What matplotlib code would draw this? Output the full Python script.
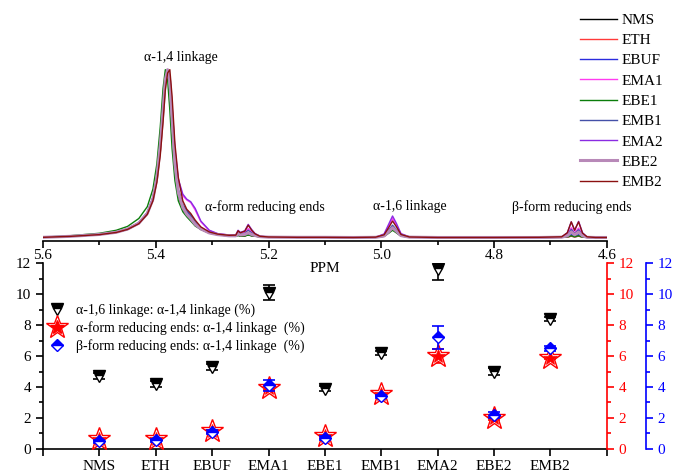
import matplotlib
matplotlib.use('Agg')
import matplotlib.pyplot as plt
from matplotlib.lines import Line2D
from matplotlib.legend_handler import HandlerTuple
from matplotlib.ticker import MultipleLocator

plt.rcParams['font.family'] = ['Liberation Serif', 'DejaVu Serif']
plt.rcParams['font.size'] = 11

# ---- 1H NMR spectra (normalised to the alpha-1,4 peak) ----
ppm = [5.60, 5.55, 5.50, 5.47, 5.45, 5.43, 5.415, 5.405, 5.398, 5.392,
       5.387, 5.383, 5.379, 5.375, 5.371, 5.366, 5.360, 5.352, 5.345, 5.338,
       5.330, 5.320, 5.305, 5.290, 5.270, 5.258, 5.254, 5.250, 5.242, 5.236,
       5.230, 5.224, 5.215, 5.200, 5.150, 5.100, 5.050, 5.010, 4.995, 4.987,
       4.980, 4.973, 4.965, 4.950, 4.900, 4.800, 4.720, 4.680, 4.670, 4.663,
       4.657, 4.650, 4.643, 4.635, 4.620, 4.600]

nms = [0.3, 0.9, 1.9, 3.2, 5.0, 8.5, 14, 23, 36, 55,
       77, 94, 100, 92, 70, 42, 25, 16.5, 13, 10.5,
       7.5, 5.0, 2.8, 1.8, 1.1, 1.0, 1.5, 1.0, 1.1, 1.8,
       1.2, 1.0, 0.6, 0.4, 0.3, 0.3, 0.2, 0.3, 1.0, 3.2,
       5.5, 3.5, 1.2, 0.4, 0.2, 0.2, 0.2, 0.3, 0.5, 1.0,
       0.6, 1.0, 0.5, 0.3, 0.2, 0.2]
eth = [0.3, 0.9, 2.0, 3.3, 5.2, 8.8, 14.5, 23, 34, 51,
       72, 91, 99, 96, 75, 47, 27, 17.5, 14, 11.5,
       8.0, 5.3, 3.0, 1.9, 1.2, 1.1, 1.7, 1.2, 1.3, 2.1,
       1.4, 1.1, 0.6, 0.4, 0.3, 0.3, 0.2, 0.3, 0.9, 3.0,
       5.0, 3.2, 1.1, 0.4, 0.2, 0.2, 0.2, 0.3, 0.5, 1.0,
       0.6, 1.0, 0.5, 0.3, 0.2, 0.2]
ebuf = [0.3, 0.9, 2.0, 3.4, 5.3, 9.0, 15, 24, 37, 56,
        78, 95, 100, 93, 71, 45, 28, 19.5, 16, 12.5,
        8.5, 5.5, 3.1, 2.0, 1.3, 1.2, 2.0, 1.4, 1.6, 2.6,
        1.8, 1.3, 0.7, 0.4, 0.3, 0.3, 0.2, 0.3, 1.2, 3.8,
        6.5, 4.2, 1.4, 0.4, 0.2, 0.2, 0.2, 0.4, 0.9, 2.0,
        1.1, 1.9, 0.8, 0.3, 0.2, 0.2]
ema1 = [0.3, 1.0, 2.1, 3.5, 5.4, 9.1, 15, 24, 36, 54,
        75, 93, 100, 95, 76, 51, 34, 25, 22.5, 21,
        16.5, 9.5, 4.3, 2.4, 1.6, 1.6, 3.5, 2.5, 3.2, 5.5,
        3.5, 2.0, 0.9, 0.5, 0.3, 0.3, 0.3, 0.4, 2.0, 7.0,
        11.5, 7.5, 2.2, 0.5, 0.2, 0.2, 0.2, 0.5, 2.0, 6.0,
        3.0, 5.8, 2.0, 0.5, 0.2, 0.2]
ebe1 = [0.4, 1.3, 2.7, 4.5, 6.8, 11.5, 18.5, 29, 44, 66,
        89, 100, 94, 76, 53, 34, 22, 15.5, 12.5, 10,
        7.0, 5.0, 3.0, 2.0, 1.3, 1.0, 1.4, 1.0, 1.1, 1.7,
        1.2, 1.0, 0.6, 0.4, 0.3, 0.3, 0.2, 0.3, 0.9, 2.7,
        4.5, 2.9, 1.0, 0.4, 0.2, 0.2, 0.2, 0.3, 0.6, 1.2,
        0.7, 1.2, 0.5, 0.3, 0.2, 0.2]
emb1 = [0.3, 0.9, 2.0, 3.3, 5.2, 8.8, 14.5, 23.5, 36, 55,
        76, 94, 100, 94, 73, 46, 29, 20, 16, 13.5,
        9.5, 6.0, 3.3, 2.1, 1.4, 1.4, 3.0, 2.2, 2.7, 4.5,
        3.0, 1.8, 0.8, 0.4, 0.3, 0.3, 0.2, 0.3, 1.4, 4.6,
        7.5, 4.8, 1.6, 0.4, 0.2, 0.2, 0.2, 0.4, 1.6, 5.0,
        2.5, 4.8, 1.6, 0.4, 0.2, 0.2]
ema2 = [0.3, 1.0, 2.1, 3.5, 5.4, 9.1, 15, 24, 36, 54,
        75, 93, 100, 96, 78, 53, 35, 26, 23, 21.5,
        17.5, 10, 4.5, 2.5, 1.7, 1.8, 4.5, 3.2, 4.2, 8.0,
        5.0, 2.6, 1.0, 0.5, 0.3, 0.4, 0.3, 0.4, 2.3, 8.0,
        13, 8.5, 2.5, 0.6, 0.3, 0.2, 0.3, 0.6, 3.0, 9.5,
        4.5, 9.8, 3.0, 0.6, 0.2, 0.2]
ebe2 = [0.3, 0.9, 2.0, 3.3, 5.2, 8.7, 14.5, 23, 36, 55,
        76, 94, 100, 93, 71, 44, 27, 18, 14, 11.5,
        8.0, 5.3, 2.9, 1.9, 1.2, 1.2, 2.4, 1.7, 2.0, 3.0,
        2.0, 1.4, 0.7, 0.4, 0.3, 0.3, 0.2, 0.3, 1.1, 3.6,
        6.0, 3.9, 1.3, 0.4, 0.2, 0.2, 0.2, 0.4, 1.2, 3.5,
        1.8, 3.4, 1.2, 0.3, 0.2, 0.2]
emb2 = [0.3, 0.9, 1.9, 3.2, 5.0, 8.4, 14, 22, 33, 49,
        69, 88, 98, 100, 84, 56, 36, 22, 17, 14.5,
        10.5, 6.5, 3.5, 2.2, 1.5, 1.6, 4.2, 3.0, 4.0, 7.5,
        4.6, 2.4, 0.9, 0.5, 0.3, 0.3, 0.2, 0.4, 1.8, 6.0,
        10, 6.5, 2.0, 0.5, 0.2, 0.2, 0.3, 0.6, 3.0, 9.5,
        4.5, 9.5, 2.8, 0.6, 0.2, 0.2]

samples = ['NMS', 'ETH', 'EBUF', 'EMA1', 'EBE1', 'EMB1', 'EMA2', 'EBE2', 'EMB2']
spectra = [nms, eth, ebuf, ema1, ebe1, emb1, ema2, ebe2, emb2]
spec_colors = ['#000000', '#ff3a3a', '#2b2bdd', '#ff3cf0', '#0a7d0a',
               '#4450a8', '#8a2be2', '#b889b8', '#8b1010']
spec_widths = [1, 1, 1, 1, 1, 1, 1, 2.2, 1]

# ---- ratios (%) ----
a16 = [4.7, 4.2, 5.3, 10.1, 3.9, 6.2, 11.6, 5.0, 8.4]
a16_err = [0.2, 0.2, 0.2, 0.5, 0.15, 0.15, 0.7, 0.2, 0.15]
alpha_re = [0.65, 0.65, 1.15, 3.95, 0.8, 3.55, 6.0, 2.0, 5.9]
alpha_err = [0.1, 0.1, 0.12, 0.15, 0.1, 0.12, 0.45, 0.15, 0.1]
beta_re = [0.5, 0.55, 1.1, 4.1, 0.7, 3.4, 7.2, 2.2, 6.5]
beta_err = [0.1, 0.1, 0.15, 0.35, 0.1, 0.1, 0.75, 0.2, 0.15]

fig = plt.figure(figsize=(6.76, 4.76), dpi=100)

# ---------- top: spectra ----------
ax_top = fig.add_axes([0.0636, 0.494, 0.834, 0.496])
for s, name, c, lw in zip(spectra, samples, spec_colors, spec_widths):
    ax_top.plot(ppm, s, color=c, lw=lw, label=name)
ax_top.set_xlim(5.6, 4.6)
ax_top.set_ylim(-1.8, 138.6)
for side in ['top', 'left', 'right']:
    ax_top.spines[side].set_visible(False)
ax_top.spines['bottom'].set_linewidth(1.2)
ax_top.set_yticks([])
ax_top.xaxis.set_major_locator(MultipleLocator(0.2))
ax_top.xaxis.set_minor_locator(MultipleLocator(0.1))
ax_top.tick_params(axis='x', which='major', direction='out', length=5, width=1.2, pad=1)
ax_top.tick_params(axis='x', which='minor', direction='out', length=3, width=1.2)
ax_top.set_xticks([5.6, 5.4, 5.2, 5.0, 4.8, 4.6])
ax_top.set_xticklabels(['5.6', '5.4', '5.2', '5.0', '4.8', '4.6'])
ax_top.set_xlabel('PPM', labelpad=0)

ax_top.text(5.355, 107, 'α-1,4 linkage', ha='center', va='center', fontsize=10)
ax_top.text(5.206, 18.5, 'α-form reducing ends', ha='center', va='center', fontsize=10)
ax_top.text(4.949, 18.5, 'α-1,6 linkage', ha='center', va='center', fontsize=10)
ax_top.text(4.662, 18.5, 'β-form reducing ends', ha='center', va='center', fontsize=10)

ax_top.legend(loc='upper right', bbox_to_anchor=(0.99, 0.985), bbox_transform=fig.transFigure,
              frameon=False, handlelength=2.4, handletextpad=0.3, labelspacing=0.43,
              borderaxespad=0.0, fontsize=11)

# ---------- bottom: ratios ----------
ax = fig.add_axes([0.0636, 0.057, 0.834, 0.390])
ax_r = ax.twinx()
ax_b = ax.twinx()
ax_b.spines['right'].set_position(('outward', 28))
for a in (ax, ax_r, ax_b):
    a.patch.set_visible(False)

x = list(range(1, len(samples) + 1))

ax.errorbar(x, a16, yerr=a16_err, fmt='none', ecolor='k', elinewidth=1.2,
            capsize=4, capthick=1.2)
ax.plot(x, a16, ls='none', marker='v', ms=9, fillstyle='top', color='k',
        mfc='k', mfcalt='white', mec='k', mew=1)

ax_r.errorbar(x, alpha_re, yerr=alpha_err, fmt='none', ecolor='red', elinewidth=1.2,
              capsize=4, capthick=1.2)
ax_r.plot(x, alpha_re, ls='none', marker='*', ms=17, mfc='white', mec='red', mew=1)
ax_r.plot(x, alpha_re, ls='none', marker='*', ms=10, mfc='red', mec='red', mew=0.5)

ax_b.errorbar(x, beta_re, yerr=beta_err, fmt='none', ecolor='blue', elinewidth=1.2,
              capsize=4, capthick=1.2)
ax_b.plot(x, beta_re, ls='none', marker='D', ms=6, fillstyle='top', color='blue',
          mfc='blue', mfcalt='white', mec='blue', mew=1)

ax.set_xlim(0, len(samples) + 1)
ax.set_xticks(range(0, len(samples) + 2))
ax.set_xticklabels([''] + samples + [''])
for a in (ax, ax_r, ax_b):
    a.set_ylim(0, 12)
    a.yaxis.set_major_locator(MultipleLocator(2))
    a.yaxis.set_minor_locator(MultipleLocator(1))
    a.spines['top'].set_visible(False)

ax.spines['right'].set_visible(False)
ax.spines['left'].set_linewidth(1.2)
ax.spines['bottom'].set_linewidth(1.2)
ax.tick_params(axis='both', which='major', direction='out', length=5, width=1.2, labelsize=11)
ax.tick_params(axis='y', which='minor', direction='out', length=3, width=1.2)
ax.tick_params(axis='x', pad=3)

ax_r.spines['left'].set_visible(False)
ax_r.spines['bottom'].set_visible(False)
ax_r.spines['right'].set_color('red')
ax_r.spines['right'].set_linewidth(1.2)
ax_r.tick_params(axis='y', which='major', colors='red', direction='out', length=5, width=1.2,
                 labelsize=11)
ax_r.tick_params(axis='y', which='minor', colors='red', direction='out', length=3, width=1.2)

ax_b.spines['left'].set_visible(False)
ax_b.spines['bottom'].set_visible(False)
ax_b.spines['right'].set_color('blue')
ax_b.spines['right'].set_linewidth(1.2)
ax_b.tick_params(axis='y', which='major', colors='blue', direction='out', length=5, width=1.2,
                 labelsize=11)
ax_b.tick_params(axis='y', which='minor', colors='blue', direction='out', length=3, width=1.2)

h1 = Line2D([], [], ls='none', marker='v', ms=9, fillstyle='top', color='k',
            mfc='k', mfcalt='white', mec='k')
h2a = Line2D([], [], ls='none', marker='*', ms=17, mfc='white', mec='red')
h2b = Line2D([], [], ls='none', marker='*', ms=10, mfc='red', mec='red')
h3 = Line2D([], [], ls='none', marker='D', ms=6, fillstyle='top', color='blue',
            mfc='blue', mfcalt='white', mec='blue')
ax_b.legend([h1, (h2a, h2b), h3],
            ['α-1,6 linkage: α-1,4 linkage (%)',
             'α-form reducing ends: α-1,4 linkage  (%)',
             'β-form reducing ends: α-1,4 linkage  (%)'],
            handler_map={tuple: HandlerTuple(ndivide=1)},
            loc='upper left', bbox_to_anchor=(0.0, 0.82), frameon=False,
            fontsize=10, handlelength=1.0, handletextpad=0.9, labelspacing=0.3,
            borderaxespad=0.1)

fig.savefig('out.png', dpi=100)
